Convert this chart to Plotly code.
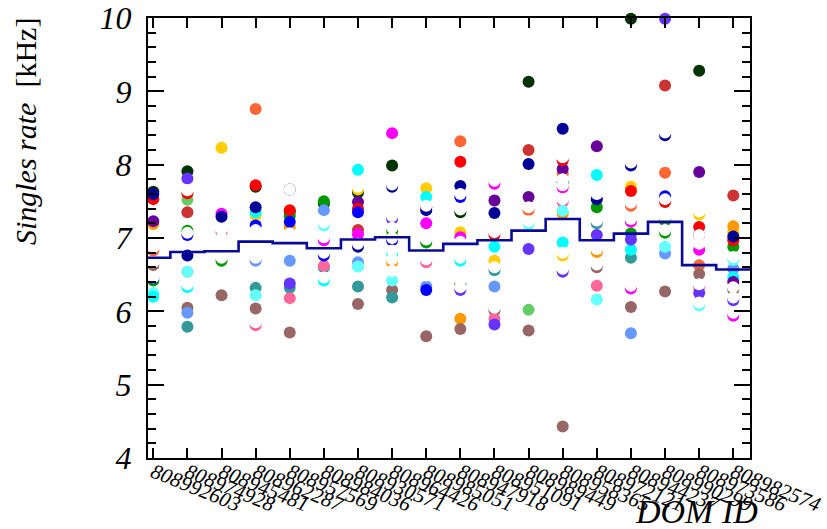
import plotly.graph_objects as go

dom_ids = ["808992603", "808974928", "808945481", "808962287", "808957569", "808984036",
           "808930571", "808964426", "808985051", "808947918", "808951091", "808989449",
           "808958365", "808972121", "808944237", "808990299", "808973586", "808982574"]

y_ticks = [4, 5, 6, 7, 8, 9, 10]

# mean singles rate per DOM (step histogram), kHz
mean_rate = [6.73, 6.81, 6.82, 6.95, 6.93, 6.86, 6.98, 7.01, 6.83, 6.92,
             6.97, 7.10, 7.26, 6.97, 7.06, 7.22, 6.63, 6.57]

# per-run points: (DOM index list, rate list)
dark_green_dom = [0, 1, 3, 4, 5, 6, 7, 9, 11, 14, 16]
dark_green_rate = [7.63, 7.91, 7.70, 7.36, 7.47, 7.62, 7.99, 7.35, 9.13, 9.99, 9.28]
navy_dom = [0, 1, 2, 3, 4, 6, 7, 8, 9, 10, 11, 12, 13, 14, 15, 17]
navy_rate = [7.60, 6.76, 7.29, 7.42, 7.66, 6.88, 7.70, 7.38, 7.71, 7.34, 8.01, 8.49, 7.53, 7.99, 8.40, 7.02]
blue_dom = [0, 1, 3, 4, 5, 6, 7, 8, 9, 15, 16]
blue_rate = [6.45, 7.04, 7.17, 7.22, 6.76, 7.35, 6.97, 6.29, 7.56, 7.57, 7.04]
red_dom = [0, 1, 3, 4, 6, 8, 9, 10, 12, 14, 15, 16, 17]
red_rate = [7.53, 7.61, 7.72, 7.38, 7.40, 7.42, 8.04, 7.04, 8.06, 7.64, 7.49, 7.15, 6.97]
brick_dom = [1, 6, 11, 15, 17]
brick_rate = [7.35, 7.11, 8.20, 9.08, 7.58]
orange_red_dom = [0, 3, 9, 11, 12, 14, 15, 16]
orange_red_rate = [6.83, 8.76, 8.32, 7.38, 7.88, 7.44, 7.89, 6.63]
gold_dom = [2, 3, 6, 7, 8, 9, 10, 12, 14, 16, 17]
gold_rate = [8.23, 7.31, 7.66, 7.04, 7.68, 7.08, 6.69, 6.76, 7.70, 7.32, 7.08]
orange_dom = [0, 1, 4, 7, 9, 12, 13, 17]
orange_rate = [7.19, 6.54, 7.15, 6.67, 5.90, 7.33, 6.81, 7.16]
purple_dom = [0, 6, 10, 11, 12, 13, 16, 17]
purple_rate = [7.23, 7.49, 7.51, 7.56, 7.94, 8.25, 7.90, 6.40]
violet_dom = [1, 4, 7, 9, 10, 11, 12, 13, 14, 15, 16, 17]
violet_rate = [7.81, 6.38, 7.26, 6.29, 5.82, 6.85, 6.54, 7.04, 6.98, 9.99, 6.25, 6.15]
light_green_dom = [1, 11]
light_green_rate = [7.52, 6.02]
green_dom = [0, 1, 2, 4, 5, 7, 8, 9, 12, 13, 14, 15, 15, 17]
green_rate = [6.42, 7.10, 6.69, 7.30, 7.50, 7.10, 6.94, 6.38, 7.76, 7.42, 7.06, 7.24, 7.07, 6.88]
cyan_dom = [0, 1, 3, 5, 6, 7, 8, 9, 10, 12, 13, 14, 17]
cyan_rate = [6.20, 6.33, 7.35, 6.42, 7.93, 6.79, 7.56, 6.69, 6.88, 6.94, 7.86, 6.84, 6.46]
light_cyan_dom = [0, 1, 3, 5, 6, 7, 11, 12, 13, 15, 16, 17]
light_cyan_rate = [6.25, 6.54, 6.22, 7.17, 6.61, 6.42, 7.19, 7.37, 6.16, 6.88, 6.08, 6.70]
magenta_dom = [2, 5, 6, 7, 8, 9, 10, 12, 14, 14, 16, 17]
magenta_rate = [7.33, 6.97, 7.05, 8.43, 7.20, 7.01, 7.74, 7.69, 7.22, 6.31, 6.84, 5.94]
pink_dom = [2, 3, 4, 5, 8, 10, 12, 13, 16]
pink_rate = [7.08, 5.81, 6.18, 6.62, 6.67, 5.90, 7.49, 6.35, 6.33]
cornflower_dom = [1, 3, 4, 5, 6, 8, 10, 14, 15, 17]
cornflower_rate = [5.98, 6.69, 6.69, 7.38, 6.67, 6.34, 6.34, 5.70, 6.79, 6.58]
teal_dom = [1, 3, 4, 5, 6, 7, 10, 13, 14]
teal_rate = [5.79, 6.32, 6.32, 6.60, 6.34, 6.19, 6.56, 7.20, 6.73]
mauve_dom = [0, 1, 2, 3, 4, 6, 7, 8, 9, 10, 11, 12, 13, 14, 15, 16, 17]
mauve_rate = [6.63, 6.05, 6.22, 6.04, 5.71, 6.10, 6.29, 5.66, 5.76, 6.01, 5.74, 4.43, 6.60, 6.06, 6.27, 6.51, 6.29]
white_dom = [0, 0, 0, 1, 1, 1, 2, 2, 2, 3, 3, 3, 4, 4, 5, 5, 5, 5, 6, 6,
             7, 7, 7, 7, 7, 7, 7, 8, 8, 8, 8, 9, 9, 9, 9, 9, 9, 10, 10, 10, 10,
             11, 11, 12, 12, 12, 12, 12, 12, 13, 13, 13, 13, 14, 14, 14, 14,
             15, 15, 15, 15, 16, 16, 16, 16, 16, 17, 17, 17, 17]
white_rate = [6.87, 6.67, 6.46, 7.65, 7.07, 6.37, 7.12, 7.00, 6.73, 7.11, 6.73, 5.85, 7.66, 7.06,
              7.21, 7.01, 6.80, 6.46, 7.70, 6.92, 7.73, 7.30, 7.14, 7.00, 6.83, 6.71, 6.55,
              7.44, 6.98, 6.71, 6.49, 7.60, 7.39, 6.95, 6.73, 6.42, 6.33, 7.78, 7.08, 6.60, 6.05,
              7.42, 7.23, 8.10, 7.80, 7.72, 7.53, 6.80, 6.58, 7.60, 7.24, 6.85, 6.64,
              8.03, 7.48, 7.26, 6.35, 8.44, 7.53, 7.28, 7.11, 7.36, 7.04, 6.92, 6.37, 6.12,
              6.74, 6.33, 6.19, 5.98]

series = [
    ("#003300", dark_green_dom, dark_green_rate),
    ("#ffcc00", gold_dom, gold_rate),
    ("#ff9900", orange_dom, orange_rate),
    ("#ff6633", orange_red_dom, orange_red_rate),
    ("#cc3333", brick_dom, brick_rate),
    ("#66cc66", light_green_dom, light_green_rate),
    ("#009900", green_dom, green_rate),
    ("#996666", mauve_dom, mauve_rate),
    ("#339999", teal_dom, teal_rate),
    ("#6699ff", cornflower_dom, cornflower_rate),
    ("#ff6699", pink_dom, pink_rate),
    ("#66ffff", light_cyan_dom, light_cyan_rate),
    ("#00ffff", cyan_dom, cyan_rate),
    ("#ff00ff", magenta_dom, magenta_rate),
    ("#6633ff", violet_dom, violet_rate),
    ("#660099", purple_dom, purple_rate),
    ("#ff0000", red_dom, red_rate),
    ("#0000ff", blue_dom, blue_rate),
    ("#000099", navy_dom, navy_rate),
    ("#ffffff", white_dom, white_rate),
]

fig = go.Figure()
for color, doms, rates in series:
    fig.add_trace(go.Scatter(
        x=doms, y=rates, mode="markers",
        marker=dict(color=color, size=12, line=dict(width=0)),
        showlegend=False, cliponaxis=False))

# step histogram of the mean rate
edges = [i - 0.5 for i in range(len(mean_rate) + 1)]
fig.add_trace(go.Scatter(
    x=edges, y=mean_rate + [mean_rate[-1]], mode="lines",
    line=dict(color="#0a0a99", width=2.6, shape="hv"),
    showlegend=False))

serif = "Liberation Serif"

fig.update_layout(
    width=827, height=529,
    margin=dict(l=148, r=77, t=18, b=71),
    paper_bgcolor="white", plot_bgcolor="white",
    xaxis=dict(
        range=[-0.155, 17.49], tickmode="array",
        tickvals=list(range(len(dom_ids))),
        ticktext=[f"<i>{d}</i>" for d in dom_ids],
        tickangle=22, tickfont=dict(family=serif, size=21, color="black"),
        ticks="inside", ticklen=10, tickwidth=2, tickcolor="black",
        showline=True, linecolor="black", linewidth=2, mirror="allticks",
        showgrid=False, zeroline=False, ticklabelstandoff=-8, automargin=False),
    yaxis=dict(
        range=[4, 10], tickmode="array", tickvals=y_ticks,
        ticktext=[f"<i>{v}</i>" for v in y_ticks],
        tickfont=dict(family=serif, size=32, color="black"),
        ticks="inside", ticklen=16, tickwidth=2, tickcolor="black",
        minor=dict(dtick=0.2, tick0=4, ticks="inside", ticklen=8, tickwidth=2, tickcolor="black"),
        showline=True, linecolor="black", linewidth=2, mirror="allticks",
        showgrid=False, zeroline=False, ticklabelstandoff=8, automargin=False),
    annotations=[
        dict(text="<i>Singles rate</i>  [kHz]", textangle=-90,
             xref="paper", yref="paper", x=-0.203, y=1.005,
             xanchor="center", yanchor="top", showarrow=False,
             font=dict(family=serif, size=30, color="black")),
        dict(text="<i>DOM ID</i>", xref="paper", yref="paper",
             x=1.017, y=-0.074, xanchor="right", yanchor="top", showarrow=False,
             font=dict(family=serif, size=34, color="black")),
    ],
)

fig.write_html("out.html")
